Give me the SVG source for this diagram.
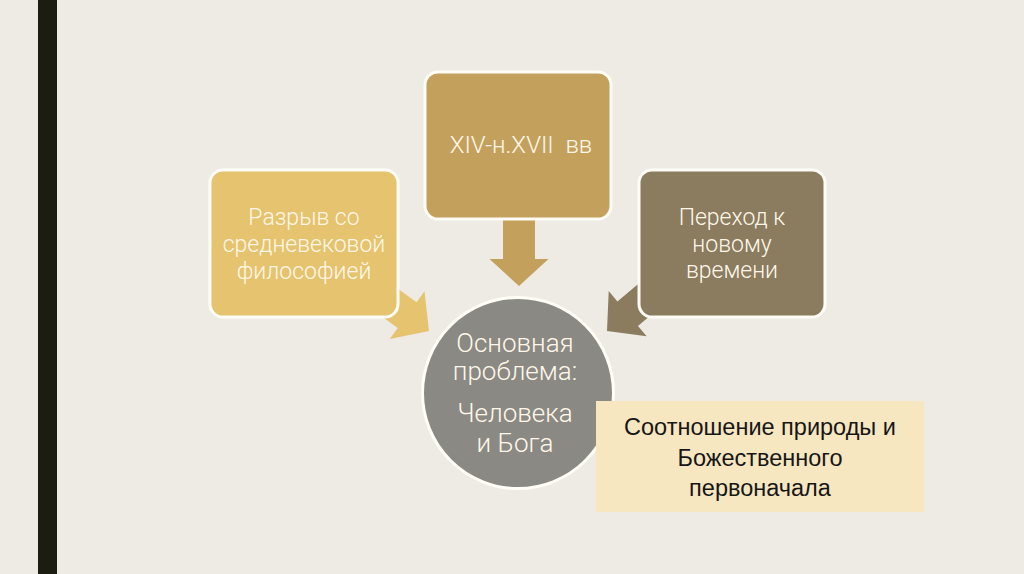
<svg xmlns="http://www.w3.org/2000/svg" width="1024" height="574" viewBox="0 0 1024 574">
<style>
.box{stroke:#FFFDF5;stroke-width:3}
.lt{font-family:Roboto,"Liberation Sans",sans-serif;font-weight:300;fill:#FFF8EA;text-anchor:middle}
.dt{font-family:"Liberation Sans",Arial,sans-serif;font-weight:400;fill:#161616;text-anchor:middle}
</style>
<defs>
<polygon id="arr" points="-70,-16 -27,-16 -27,-29.5 0,0 -27,29.5 -27,16 -70,16"/>
</defs>
<rect x="0" y="0" width="1024" height="574" fill="#EEEBE4"/>
<rect x="38" y="0" width="19" height="574" fill="#1C1D10"/>
<g id="connectors">
<use href="#arr" fill="#E6C36E" transform="translate(429,331) rotate(36)"/>
<use href="#arr" fill="#C3A05C" transform="translate(519,286) rotate(90)"/>
<use href="#arr" fill="#8B7B5F" transform="translate(607,331) rotate(140)"/>
</g>
<g id="n-left">
<rect class="box" x="210" y="170" width="188" height="147" rx="13" fill="#E6C36E"/>
<text class="lt" font-size="23" x="304" y="225">Разрыв со</text>
<text class="lt" font-size="23" x="304" y="252">средневековой</text>
<text class="lt" font-size="23" x="304" y="279">философией</text>
</g>
<g id="n-top">
<rect class="box" x="425" y="72" width="186" height="147" rx="13" fill="#C3A05C"/>
<text class="lt" font-size="24" x="521" y="153" xml:space="preserve">XIV-н.XVII  вв</text>
</g>
<g id="n-right">
<rect class="box" x="639" y="170" width="186" height="147" rx="13" fill="#8B7B5F"/>
<text class="lt" font-size="23" x="732" y="225">Переход к</text>
<text class="lt" font-size="23" x="732" y="252">новому</text>
<text class="lt" font-size="23" x="732" y="278">времени</text>
</g>
<g id="n-center">
<circle class="box" cx="518" cy="393" r="95.5" fill="#8A8983"/>
<text class="lt" font-size="26" x="515" y="352">Основная</text>
<text class="lt" font-size="26" x="515" y="380">проблема:</text>
<text class="lt" font-size="26" x="515" y="422">Человека</text>
<text class="lt" font-size="26" x="515" y="452">и Бога</text>
</g>
<g id="n-note">
<rect x="596" y="401" width="328" height="111" fill="#F6E7C1"/>
<text class="dt" font-size="23.5" x="760" y="435">Соотношение природы и</text>
<text class="dt" font-size="23.5" x="760" y="466">Божественного</text>
<text class="dt" font-size="23.5" x="760" y="496">первоначала</text>
</g>
</svg>
